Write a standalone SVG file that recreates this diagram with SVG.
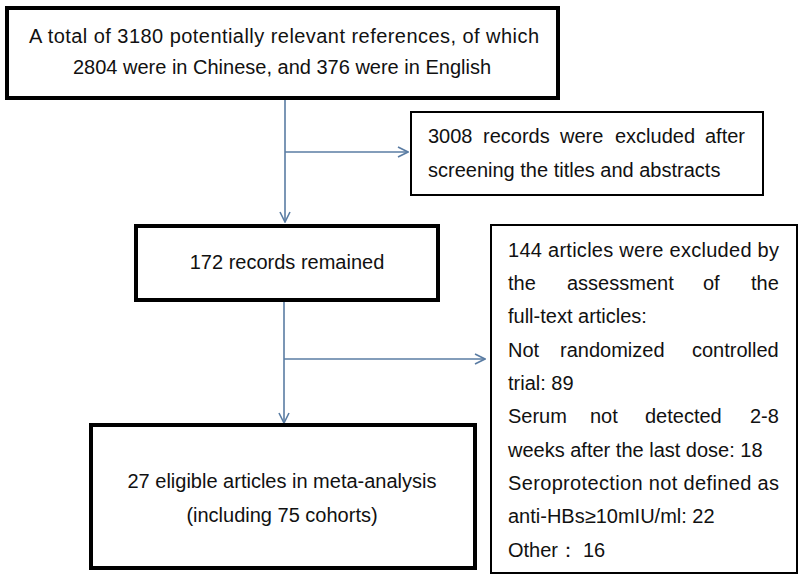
<svg xmlns="http://www.w3.org/2000/svg" width="800" height="579" viewBox="0 0 800 579">
<style>
.thick{fill:#fff;stroke:#000;stroke-width:4}
.thin{fill:#fff;stroke:#000;stroke-width:2}
text{font-family:"Liberation Sans",Arial,sans-serif;font-size:20px;fill:#111}
.c{text-anchor:middle}
.conn{fill:none;stroke:#5a7ca3;stroke-width:1.6}
</style>
<defs>
<marker id="arr" viewBox="0 0 12 12" refX="11" refY="6" markerWidth="12" markerHeight="12" markerUnits="userSpaceOnUse" orient="auto">
<path d="M1,1 L11,6 L1,11" fill="none" stroke="#5a7ca3" stroke-width="1.6"/>
</marker>
</defs>
<rect width="800" height="579" fill="#fff"/>
<g id="connectors">
<line class="conn" x1="285" y1="99" x2="285" y2="222" marker-end="url(#arr)"/>
<line class="conn" x1="285" y1="152" x2="408" y2="152" marker-end="url(#arr)"/>
<line class="conn" x1="284" y1="302" x2="284" y2="423" marker-end="url(#arr)"/>
<line class="conn" x1="284" y1="359" x2="485" y2="359" marker-end="url(#arr)"/>
</g>
<g id="n1">
<rect class="thick" x="7" y="8" width="551" height="90"/>
<text x="29" y="43" textLength="510" lengthAdjust="spacing">A total of 3180 potentially relevant references, of which</text>
<text class="c" x="282" y="74">2804 were in Chinese, and 376 were in English</text>
</g>
<g id="n2">
<rect class="thin" x="411" y="112" width="352" height="83"/>
<text y="143"><tspan x="428">3008</tspan><tspan x="483">records</tspan><tspan x="560">were</tspan><tspan x="615">excluded</tspan><tspan x="705">after</tspan></text>
<text x="428" y="177">screening the titles and abstracts</text>
</g>
<g id="n3">
<rect class="thick" x="136" y="226" width="302" height="74"/>
<text class="c" x="287" y="269">172 records remained</text>
</g>
<g id="n4">
<rect class="thin" x="491" y="225" width="306" height="348"/>
<text x="508" y="257" textLength="271" lengthAdjust="spacing">144 articles were excluded by</text>
<text y="290"><tspan x="508">the</tspan><tspan x="567">assessment</tspan><tspan x="703">of</tspan><tspan x="751">the</tspan></text>
<text x="508" y="323">full-text articles:</text>
<text y="357"><tspan x="508">Not</tspan><tspan x="560">randomized</tspan><tspan x="692">controlled</tspan></text>
<text x="508" y="390">trial: 89</text>
<text y="423"><tspan x="508">Serum</tspan><tspan x="590">not</tspan><tspan x="645">detected</tspan><tspan x="750">2-8</tspan></text>
<text x="508" y="457">weeks after the last dose: 18</text>
<text x="508" y="490" textLength="271" lengthAdjust="spacing">Seroprotection not defined as</text>
<text x="508" y="523">anti-HBs≥10mIU/ml: 22</text>
<text x="508" y="557">Other：<tspan x="583">16</tspan></text>
</g>
<g id="n5">
<rect class="thick" x="91" y="425" width="384" height="143"/>
<text class="c" x="282" y="488">27 eligible articles in meta-analysis</text>
<text class="c" x="282" y="522">(including 75 cohorts)</text>
</g>
</svg>
